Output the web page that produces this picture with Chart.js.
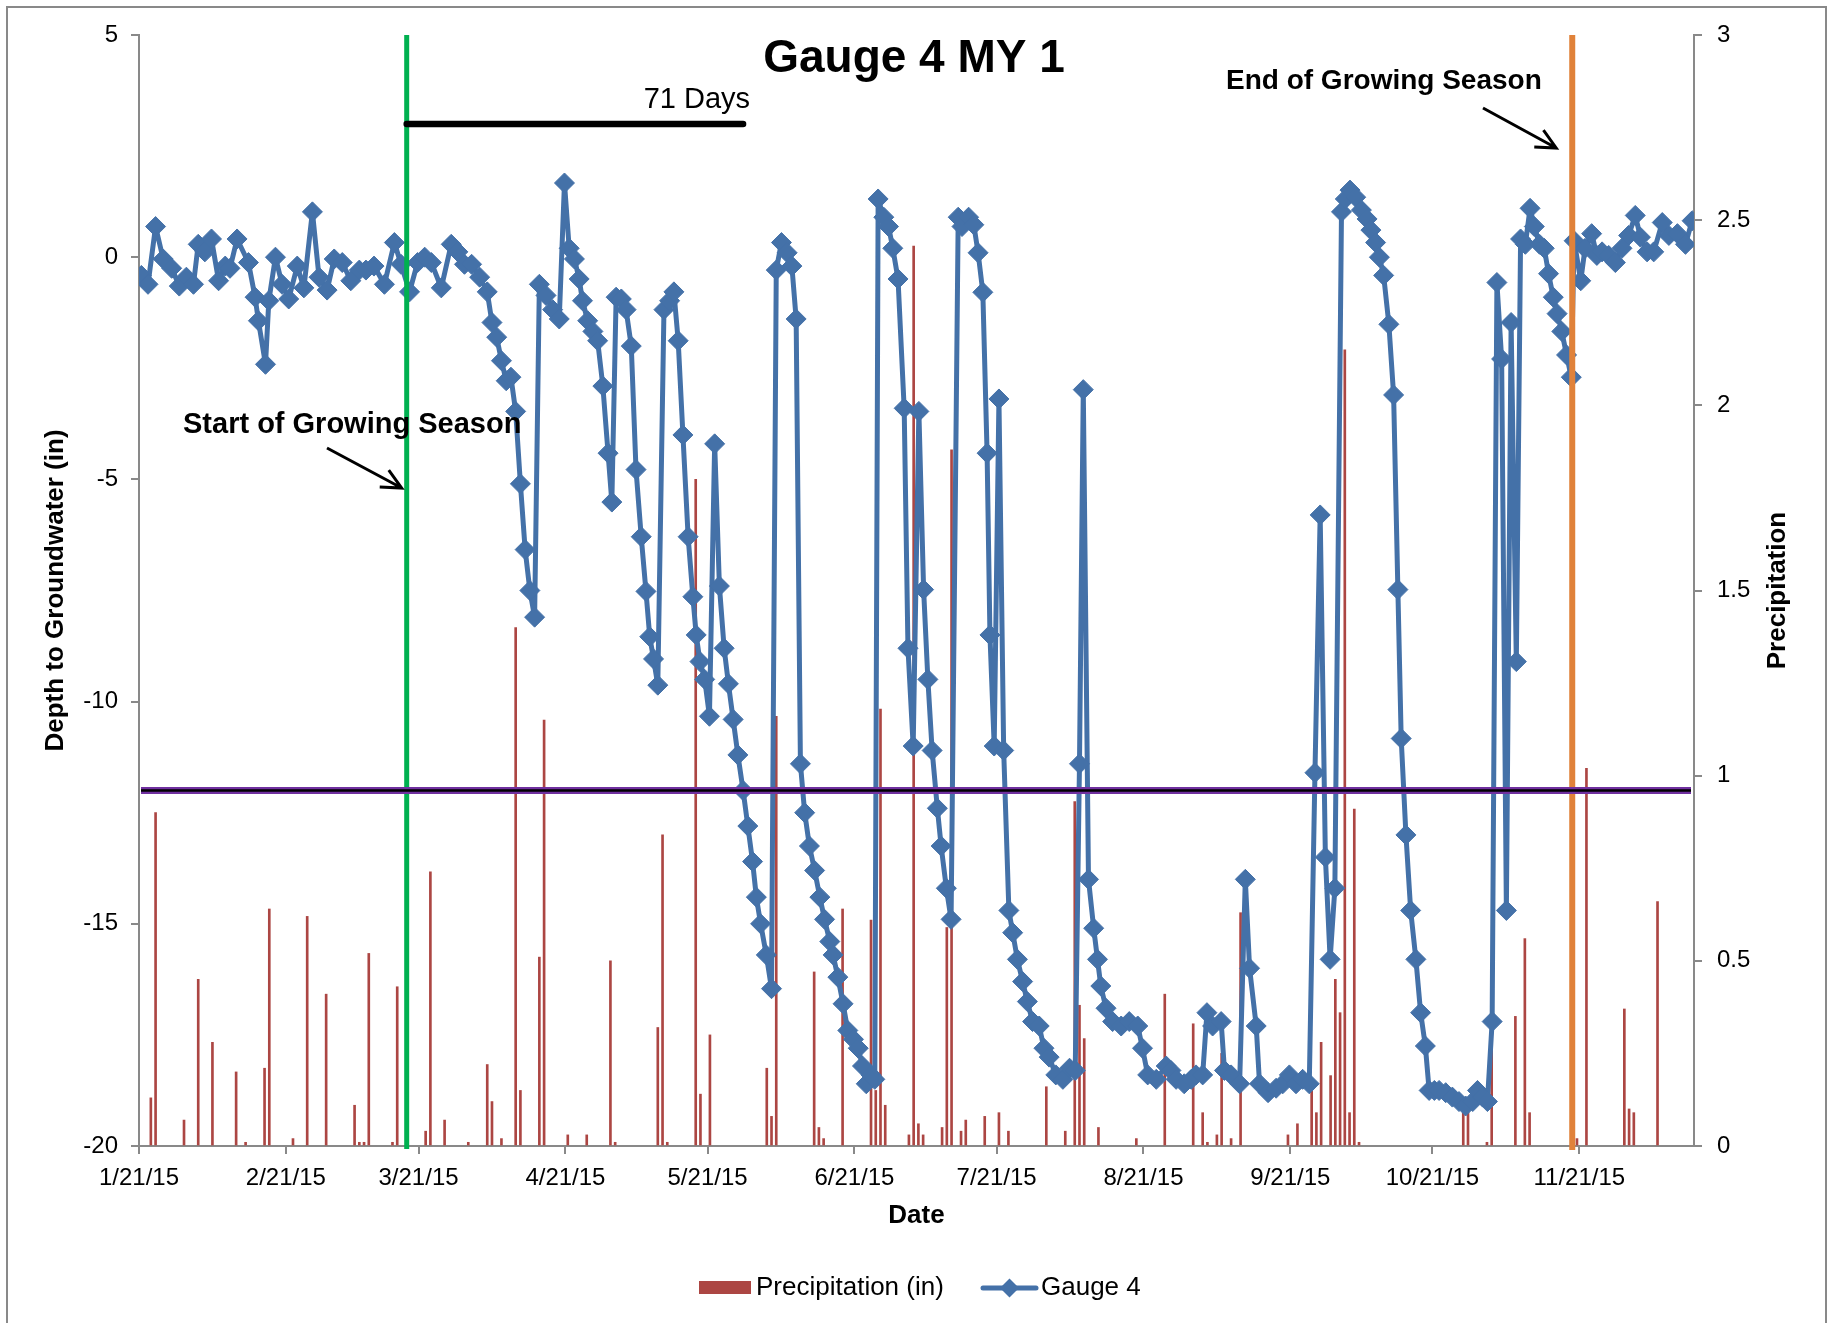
<!DOCTYPE html>
<html>
<head>
<meta charset="utf-8">
<title>Gauge 4 MY 1</title>
<script src="https://cdn.jsdelivr.net/npm/chart.js@4.4.0/dist/chart.umd.min.js"></script>
<style>
  html, body { margin: 0; padding: 0; background: #fff; }
  canvas { display: block; }
</style>
</head>
<body>
<canvas id="gaugeChart" width="1834" height="1323"></canvas>
<script>
// all x values are days counted from 1/21/15
const tickDays = [0, 31, 59, 90, 120, 151, 181, 212, 243, 273, 304]
const tickLabels = ['1/21/15', '2/21/15', '3/21/15', '4/21/15', '5/21/15', '6/21/15',
  '7/21/15', '8/21/15', '9/21/15', '10/21/15', '11/21/15']

// Gauge 4 readings: depth to groundwater (in)
const gaugeDays = [
  0.5, 1.9, 3.5, 5.1, 6.9, 8.5, 10.0, 11.5, 12.5, 13.9, 15.3, 16.8, 18.2, 19.2, 20.7, 23.1,
  24.5, 25.2, 26.7, 27.4, 28.8, 30.2, 31.6, 33.4, 34.8, 36.6, 38.0, 39.7, 41.2, 42.9, 44.7,
  46.5, 47.9, 49.6, 51.8, 53.9, 55.3, 57.1, 58.8, 60.3, 61.7, 63.8, 65.9, 67.3, 68.7, 70.2,
  71.9, 73.5, 74.5, 75.5, 76.5, 77.5, 78.5, 79.5, 80.5, 81.5, 82.5, 83.5,
  84.5, 85.9, 87.3, 88.7, 89.8, 90.8, 91.9, 92.9, 93.6, 94.7, 95.8, 96.8, 97.9, 99.0, 99.8,
  100.7, 101.8, 102.8, 103.9, 104.9, 106.0, 107.0, 107.8, 108.6, 109.5, 110.8, 112.0, 112.9,
  113.8, 114.8, 115.9, 116.9, 117.6, 118.4, 119.4, 120.4, 121.5, 122.5, 123.5, 124.4, 125.4,
  126.4, 127.5, 128.5, 129.5, 130.3, 131.2, 132.4, 133.5,
  134.5, 135.6, 136.8, 137.8, 138.7, 139.6, 140.5, 141.5, 142.6, 143.7, 144.7, 145.8, 146.5,
  147.5, 148.6, 149.6, 150.8, 151.8, 152.7, 153.5, 154.5, 155.3,
  156.0, 157.2, 158.2, 159.1, 160.2, 161.5, 162.3, 163.4, 164.6, 165.6, 166.5, 167.4, 168.5,
  169.3, 170.4, 171.4,
  172.9, 173.7, 175.1, 176.2, 177.1, 178.1, 179.0, 179.6, 180.5, 181.5, 182.5, 183.6, 184.4,
  185.4, 186.5, 187.5, 188.6, 190.0, 191.0, 192.1, 193.5, 195.0, 196.4, 197.6,
  198.5, 199.3, 200.4, 201.5, 202.3, 203.0, 204.1, 205.5, 207.3, 209.0, 210.8, 211.8, 212.9,
  214.7, 216.8, 217.8, 218.9, 220.6, 222.1, 223.1, 224.5, 225.4, 226.6, 228.4, 229.1, 230.5,
  232.3, 233.5, 234.4, 235.8, 236.5, 238.3, 240.0, 241.4, 242.8, 244.2, 245.6, 247.0,
  248.2, 249.3, 250.4, 251.4, 252.4,
  253.8, 254.6, 255.6, 256.8, 258.0, 259.2, 260.0, 261.0, 261.8, 262.7, 263.8, 264.8, 265.7,
  266.4, 267.4, 268.4, 269.5, 270.5, 271.5, 272.3, 273.4, 274.4, 275.8, 277.2, 278.6, 280.0,
  281.5, 282.5, 283.6, 284.6, 285.6,
  286.6, 287.6, 288.6, 289.6, 290.7, 291.6, 292.6, 293.6, 294.5, 295.6, 296.6, 297.5, 298.5,
  299.3, 300.3, 301.3, 302.3, 302.9, 304.3, 305.2, 306.6, 307.7, 308.8, 310.2, 311.6, 313.0,
  314.4, 315.8, 316.9, 318.3, 319.7, 321.5, 322.9, 324.7, 326.4, 327.8
]
const gaugeDepth = [
  -0.41, -0.61, 0.69, -0.04, -0.25, -0.65, -0.45, -0.61, 0.29, 0.12, 0.41, -0.53, -0.2, -0.25, 0.41, -0.12,
  -0.9, -1.43, -2.41, -0.98, 0, -0.61, -0.94, -0.2, -0.69, 1.02, -0.45, -0.74, -0.04, -0.12, -0.53,
  -0.29, -0.29, -0.2, -0.61, 0.33, -0.16, -0.78, -0.12, 0, -0.12, -0.69, 0.29, 0.12, -0.16, -0.16,
  -0.45, -0.78, -1.47, -1.8, -2.33, -2.78, -2.7, -3.47, -5.1, -6.58, -7.5, -8.1,
  -0.61, -0.86, -1.18, -1.39, 1.67, 0.2, -0.04, -0.49, -0.98, -1.43, -1.67, -1.88, -2.9, -4.41, -5.51,
  -0.9, -0.94, -1.18, -2.0, -4.78, -6.29, -7.52, -8.54, -9.04, -9.63, -1.18, -0.98, -0.78,
  -1.88, -4.0, -6.29, -7.64, -8.5, -9.1, -9.5, -10.33, -4.2, -7.4, -8.8, -9.6, -10.4,
  -11.2, -12.0, -12.8, -13.6, -14.4, -15.0, -15.7, -16.46,
  -0.29, 0.33, 0.1, -0.2, -1.39, -11.4, -12.5, -13.25, -13.8, -14.4, -14.9, -15.4, -15.7,
  -16.2, -16.8, -17.4, -17.6, -17.8, -18.2, -18.6, -18.4, -18.5,
  1.31, 0.9, 0.69, 0.2, -0.49, -3.4, -8.8, -11.0, -3.47, -7.48, -9.5, -11.1, -12.4,
  -13.25, -14.2, -14.9,
  0.9, 0.69, 0.9, 0.73, 0.1, -0.79, -4.41, -8.5, -11.0, -3.19, -11.1, -14.7, -15.2,
  -15.8, -16.3, -16.75, -17.2, -17.3, -17.8, -18.0, -18.4, -18.5, -18.25, -18.3,
  -11.4, -2.98, -14.0, -15.1, -15.8, -16.4, -16.9, -17.2, -17.3, -17.2, -17.3, -17.8, -18.4,
  -18.5, -18.2, -18.3, -18.5, -18.6, -18.5, -18.4, -18.4, -17.0, -17.3, -17.2, -18.3, -18.4,
  -18.6, -14.0, -16.0, -17.3, -18.6, -18.8, -18.7, -18.6, -18.4, -18.6, -18.5, -18.6,
  -11.6, -5.8, -13.5, -15.8, -14.2,
  1.02, 1.31, 1.51, 1.35, 1.06, 0.86, 0.61, 0.33, 0, -0.41, -1.51, -3.1, -7.48,
  -10.83, -13.0, -14.7, -15.8, -17.0, -17.75, -18.75, -18.75, -18.75, -18.8, -18.9, -19.0, -19.1,
  -19.0, -18.75, -18.9, -19.0, -17.2,
  -0.57, -2.29, -14.7, -1.47, -9.1, 0.41, 0.29, 1.1, 0.69, 0.29, 0.2, -0.37, -0.9,
  -1.27, -1.67, -2.2, -2.7, 0.37, -0.53, 0.2, 0.53, 0.04, 0.12, 0.04, -0.12, 0.2,
  0.49, 0.94, 0.45, 0.12, 0.12, 0.78, 0.49, 0.53, 0.29, 0.82
]

// daily precipitation (in), one entry per day with rain
const rainDays = [
  2, 3, 9, 12, 15, 20, 22, 26, 27, 32, 35, 39, 45, 46, 47, 48, 53, 54, 60, 61, 64, 69, 73, 74,
  76, 79, 80, 84, 85, 90, 94, 99, 100, 109, 110, 111, 117, 118, 120, 132, 133, 134, 142, 143,
  144, 148, 154, 155, 156, 157, 162, 163, 164, 165, 169, 170, 171, 173, 174, 178, 181, 183,
  191, 195, 197, 198, 199, 202, 210, 216, 222, 224, 225, 227, 228, 230, 232, 242, 244, 247,
  248, 249, 251, 252, 253, 254, 255, 256, 257, 279, 280, 284, 285, 290, 292, 293, 303, 305,
  313, 314, 315, 320
]
const rainInches = [
  0.13, 0.90, 0.07, 0.45, 0.28, 0.20, 0.01, 0.21, 0.64, 0.02, 0.62, 0.41, 0.11, 0.01, 0.01, 0.52, 0.01, 0.43, 0.04, 0.74, 0.07, 0.01, 0.22, 0.12,
  0.02, 1.40, 0.15, 0.51, 1.15, 0.03, 0.03, 0.50, 0.01, 0.32, 0.84, 0.01, 1.80, 0.14, 0.30, 0.21, 0.08, 1.16, 0.47, 0.05,
  0.02, 0.64, 0.61, 0.15, 1.18, 0.11, 0.03, 2.43, 0.06, 0.03, 0.05, 0.59, 1.88, 0.04, 0.07, 0.08, 0.09, 0.04,
  0.16, 0.04, 0.93, 0.38, 0.29, 0.05, 0.02, 0.41, 0.33, 0.09, 0.01, 0.03, 0.25, 0.02, 0.63, 0.03, 0.06, 0.16,
  0.09, 0.28, 0.19, 0.45, 0.36, 2.15, 0.09, 0.91, 0.01, 0.09, 0.09, 0.01, 0.35, 0.35, 0.56, 0.09, 0.02, 1.02,
  0.37, 0.10, 0.09, 0.66
]

const seasonStart = 56   // 3/18/15
const seasonEnd = 302    // 11/19/15
const seasonRun = 71     // days above the criteria from season start
const criteriaDepth = -12

const FONT = "'Liberation Sans', Arial, sans-serif"
const BLUE = '#4471A8'
const RED = '#AC4643'
const AXIS = '#898989'

Chart.defaults.font.family = FONT
Chart.defaults.color = '#000'

const gaugePoints = gaugeDays.map((d, i) => ({ x: d, y: gaugeDepth[i] }))
// Excel centres each daily column in the middle of its day
const rainPoints = rainDays.map((d, i) => ({ x: d + 0.5, y: rainInches[i] }))

function arrow (ctx, x1, y1, x2, y2) {
  const a = Math.atan2(y2 - y1, x2 - x1)
  const h = 22
  ctx.beginPath()
  ctx.moveTo(x1, y1)
  ctx.lineTo(x2, y2)
  ctx.moveTo(x2 + h * Math.cos(a + Math.PI - 0.45), y2 + h * Math.sin(a + Math.PI - 0.45))
  ctx.lineTo(x2, y2)
  ctx.lineTo(x2 + h * Math.cos(a + Math.PI + 0.45), y2 + h * Math.sin(a + Math.PI + 0.45))
  ctx.stroke()
}

function vertText (ctx, text, x, y) {
  ctx.save()
  ctx.translate(x, y)
  ctx.rotate(-Math.PI / 2)
  ctx.fillText(text, 0, 0)
  ctx.restore()
}

const overlay = {
  id: 'overlay',
  afterDraw (chart) {
    const { ctx, chartArea: area, scales: { x, y } } = chart
    ctx.save()

    // growing season markers
    ctx.lineCap = 'butt'
    ctx.strokeStyle = '#00B050'
    ctx.lineWidth = 5
    const gx = x.getPixelForValue(seasonStart + 0.5)
    ctx.beginPath(); ctx.moveTo(gx, area.top); ctx.lineTo(gx, area.bottom + 3); ctx.stroke()
    ctx.strokeStyle = '#E0823A'
    ctx.lineWidth = 6
    const ox = x.getPixelForValue(seasonEnd + 0.5)
    ctx.beginPath(); ctx.moveTo(ox, area.top); ctx.lineTo(ox, area.bottom + 4); ctx.stroke()

    // 12 inch criteria line
    const cy = y.getPixelForValue(criteriaDepth)
    ctx.strokeStyle = '#7030A0'
    ctx.lineWidth = 7
    ctx.beginPath(); ctx.moveTo(area.left + 2, cy); ctx.lineTo(area.right - 3, cy); ctx.stroke()
    ctx.strokeStyle = '#000'
    ctx.lineWidth = 2.5
    ctx.beginPath(); ctx.moveTo(area.left + 2, cy); ctx.lineTo(area.right - 3, cy); ctx.stroke()

    // 71 day bracket
    const by = y.getPixelForValue(3)
    const bx2 = x.getPixelForValue(seasonStart + 0.5 + seasonRun)
    ctx.lineCap = 'round'
    ctx.lineWidth = 6.5
    ctx.beginPath(); ctx.moveTo(gx, by); ctx.lineTo(bx2, by); ctx.stroke()
    ctx.fillStyle = '#000'
    ctx.font = '29px ' + FONT
    ctx.textAlign = 'right'
    ctx.textBaseline = 'alphabetic'
    ctx.fillText(seasonRun + ' Days', bx2 + 7, by - 16)

    // title
    ctx.textAlign = 'center'
    ctx.font = 'bold 46px ' + FONT
    ctx.fillText('Gauge 4 MY 1', 914, 72)

    // annotations
    ctx.textAlign = 'left'
    ctx.font = 'bold 29px ' + FONT
    ctx.fillText('Start of Growing Season', 183, 433)
    ctx.font = 'bold 28px ' + FONT
    ctx.fillText('End of Growing Season', 1226, 89)
    ctx.lineCap = 'butt'
    ctx.lineWidth = 3
    arrow(ctx, 327, 448, gx - 5, 488)
    arrow(ctx, 1483, 108, ox - 16, 148)

    // axis titles
    ctx.font = 'bold 26px ' + FONT
    ctx.textAlign = 'center'
    ctx.textBaseline = 'middle'
    ctx.fillText('Date', (area.left + area.right) / 2, 1216)
    vertText(ctx, 'Depth to Groundwater (in)', 56, (area.top + area.bottom) / 2)
    vertText(ctx, 'Precipitation', 1778, (area.top + area.bottom) / 2)

    // legend
    const ly = 1288
    ctx.font = '26px ' + FONT
    ctx.textAlign = 'left'
    ctx.fillStyle = RED
    ctx.fillRect(699, ly - 7, 52, 13)
    ctx.fillStyle = '#000'
    ctx.fillText('Precipitation (in)', 756, ly)
    ctx.strokeStyle = BLUE
    ctx.lineWidth = 5
    ctx.lineCap = 'round'
    ctx.beginPath(); ctx.moveTo(983, ly); ctx.lineTo(1036, ly); ctx.stroke()
    ctx.fillStyle = BLUE
    ctx.beginPath()
    ctx.moveTo(1009.5 - 9.5, ly); ctx.lineTo(1009.5, ly - 9.5)
    ctx.lineTo(1009.5 + 9.5, ly); ctx.lineTo(1009.5, ly + 9.5)
    ctx.closePath(); ctx.fill()
    ctx.fillStyle = '#000'
    ctx.fillText('Gauge 4', 1041, ly)

    // chart border
    ctx.strokeStyle = AXIS
    ctx.lineWidth = 2
    ctx.strokeRect(7, 7, 1819, 1340)
    ctx.restore()
  }
}

const axisGrid = { drawOnChartArea: false, drawTicks: true, tickLength: 8, color: AXIS, lineWidth: 2, offset: false }
const axisBorder = { color: AXIS, width: 2 }
const tickFont = { family: FONT, size: 24 }

// eslint-disable-next-line no-unused-vars
const gaugeChart = new Chart(document.getElementById('gaugeChart'), {
  type: 'bar',
  data: {
    datasets: [
      {
        type: 'line',
        label: 'Gauge 4',
        data: gaugePoints,
        xAxisID: 'x',
        yAxisID: 'y',
        order: 0,
        borderColor: BLUE,
        borderWidth: 5,
        borderJoinStyle: 'round',
        pointStyle: 'rectRot',
        pointRadius: 10,
        pointBackgroundColor: BLUE,
        pointBorderColor: BLUE,
        pointBorderWidth: 1,
        tension: 0
      },
      {
        type: 'bar',
        label: 'Precipitation (in)',
        data: rainPoints,
        xAxisID: 'x',
        yAxisID: 'y1',
        order: 1,
        backgroundColor: RED,
        borderWidth: 0,
        barThickness: 2
      }
    ]
  },
  options: {
    responsive: false,
    animation: false,
    events: [],
    layout: { padding: { top: 35, left: 0, right: 0, bottom: 0 } },
    plugins: {
      legend: { display: false },
      title: { display: false },
      tooltip: { enabled: false }
    },
    scales: {
      x: {
        type: 'linear',
        min: 0,
        max: 328.2,
        offset: false,
        afterFit: (s) => { s.height = 177 },
        afterBuildTicks: (s) => { s.ticks = tickDays.map((v) => ({ value: v })) },
        ticks: {
          autoSkip: false,
          maxRotation: 0,
          padding: 10,
          color: '#000',
          font: tickFont,
          callback: (v, i) => tickLabels[i]
        },
        grid: axisGrid,
        border: axisBorder
      },
      y: {
        position: 'left',
        min: -20,
        max: 5,
        afterFit: (s) => { s.width = 139 },
        ticks: { stepSize: 5, padding: 13, color: '#000', font: tickFont },
        grid: axisGrid,
        border: axisBorder
      },
      y1: {
        position: 'right',
        min: 0,
        max: 3,
        afterFit: (s) => { s.width = 140 },
        ticks: { stepSize: 0.5, padding: 15, color: '#000', font: tickFont, callback: (v) => String(v) },
        grid: axisGrid,
        border: axisBorder
      }
    }
  },
  plugins: [overlay]
})
</script>
</body>
</html>
